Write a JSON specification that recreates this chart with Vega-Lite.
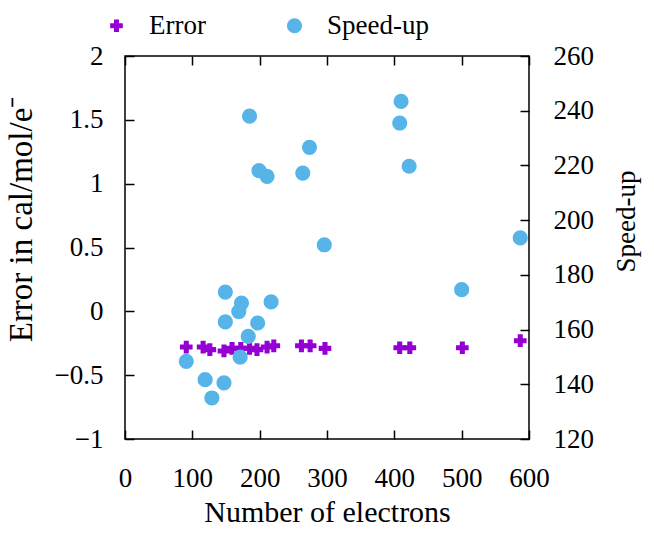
{
  "$schema": "https://vega.github.io/schema/vega-lite/v6.json",
  "width": 404,
  "height": 383,
  "padding": {"left": 5, "top": 12, "right": 10, "bottom": 4},
  "data": {
    "values": [
      {"electrons": 91, "series": "Error", "value": -0.28},
      {"electrons": 116, "series": "Error", "value": -0.28},
      {"electrons": 126, "series": "Error", "value": -0.30},
      {"electrons": 147, "series": "Error", "value": -0.31},
      {"electrons": 159, "series": "Error", "value": -0.29},
      {"electrons": 172, "series": "Error", "value": -0.29},
      {"electrons": 185, "series": "Error", "value": -0.29},
      {"electrons": 196, "series": "Error", "value": -0.30},
      {"electrons": 211, "series": "Error", "value": -0.28},
      {"electrons": 221, "series": "Error", "value": -0.27},
      {"electrons": 262, "series": "Error", "value": -0.27},
      {"electrons": 275, "series": "Error", "value": -0.27},
      {"electrons": 297, "series": "Error", "value": -0.29},
      {"electrons": 408, "series": "Error", "value": -0.285},
      {"electrons": 423, "series": "Error", "value": -0.285},
      {"electrons": 501, "series": "Error", "value": -0.285},
      {"electrons": 587, "series": "Error", "value": -0.23},
      {"electrons": 91, "series": "Speed-up", "value": 148.4},
      {"electrons": 119, "series": "Speed-up", "value": 141.7},
      {"electrons": 129, "series": "Speed-up", "value": 135.0},
      {"electrons": 147, "series": "Speed-up", "value": 140.5},
      {"electrons": 149, "series": "Speed-up", "value": 162.8},
      {"electrons": 149, "series": "Speed-up", "value": 173.7},
      {"electrons": 169, "series": "Speed-up", "value": 166.6},
      {"electrons": 173, "series": "Speed-up", "value": 169.7},
      {"electrons": 171, "series": "Speed-up", "value": 149.9},
      {"electrons": 183, "series": "Speed-up", "value": 157.5},
      {"electrons": 185, "series": "Speed-up", "value": 238.0},
      {"electrons": 197, "series": "Speed-up", "value": 162.4},
      {"electrons": 199, "series": "Speed-up", "value": 218.1},
      {"electrons": 211, "series": "Speed-up", "value": 216.0},
      {"electrons": 217, "series": "Speed-up", "value": 170.1},
      {"electrons": 264, "series": "Speed-up", "value": 217.2},
      {"electrons": 274, "series": "Speed-up", "value": 226.6},
      {"electrons": 296, "series": "Speed-up", "value": 191.0},
      {"electrons": 408, "series": "Speed-up", "value": 235.5},
      {"electrons": 410, "series": "Speed-up", "value": 243.4},
      {"electrons": 422, "series": "Speed-up", "value": 219.7},
      {"electrons": 500, "series": "Speed-up", "value": 174.6},
      {"electrons": 587, "series": "Speed-up", "value": 193.5}
    ]
  },
  "layer": [
    {
      "transform": [{"filter": "datum.series === 'Error'"}],
      "mark": {"type": "point", "filled": true, "opacity": 1, "strokeWidth": 0},
      "encoding": {
        "x": {
          "field": "electrons", "type": "quantitative",
          "scale": {"domain": [0, 600], "nice": false, "zero": false},
          "axis": {"tickCount": 6, "labelFlush": false, "title": "Number of electrons", "labelPadding": 35, "titleY": 73, "titleBaseline": "middle", "titlePadding": 0, "titleFontSize": 30,
            "ticks": true, "tickSize": -9, "tickColor": "black", "tickWidth": 1.5, "domain": false, "grid": false, "zindex": 1}
        },
        "y": {
          "field": "value", "type": "quantitative",
          "scale": {"domain": [-1, 2], "nice": false, "zero": false},
          "axis": {"tickCount": 7, "format": ".1~f", "title": "Error in cal/mol/e⁻", "labelPadding": 31, "titleX": -104, "titleY": 163, "titleAngle": -90, "titleAlign": "center", "titleBaseline": "middle", "titleFontSize": 33,
            "ticks": true, "tickSize": -9, "tickColor": "black", "tickWidth": 1.5, "domain": false, "grid": false, "zindex": 1}
        },
        "color": {"field": "series", "type": "nominal", "scale": {"domain": ["Error", "Speed-up"], "range": ["#9400d3", "#56b4e9"]},
          "legend": {"orient": "none", "legendX": -22, "legendY": -44, "direction": "horizontal", "title": null, "labelFontSize": 27, "labelFont": "Liberation Serif, serif", "labelColor": "black", "labelOffset": 19, "columnPadding": 75, "padding": 0, "symbolStrokeWidth": 0, "symbolOpacity": 1}},
        "shape": {"field": "series", "type": "nominal", "scale": {"domain": ["Error", "Speed-up"], "range": ["cross", "circle"]}},
        "size": {"field": "series", "type": "ordinal", "scale": {"domain": ["Error", "Speed-up"], "range": [160, 230]}}
      }
    },
    {
      "transform": [{"filter": "datum.series === 'Speed-up'"}],
      "mark": {"type": "point", "filled": true, "opacity": 1, "strokeWidth": 0},
      "encoding": {
        "x": {
          "field": "electrons", "type": "quantitative",
          "axis": {"orient": "top", "tickCount": 6, "labels": false, "title": null,
            "ticks": true, "tickSize": -9, "tickColor": "black", "tickWidth": 1.5, "domain": false, "grid": false, "zindex": 1}
        },
        "y": {
          "field": "value", "type": "quantitative",
          "scale": {"domain": [120, 260], "nice": false, "zero": false},
          "axis": {"orient": "right", "tickCount": 7, "title": "Speed-up", "labelPadding": 33, "titleX": 97, "titleY": 165, "titleAngle": -90, "titleAlign": "center", "titleBaseline": "middle",
            "ticks": true, "tickSize": -9, "tickColor": "black", "tickWidth": 1.5, "domain": false, "grid": false, "zindex": 1}
        },
        "color": {"field": "series", "type": "nominal"},
        "shape": {"field": "series", "type": "nominal"},
        "size": {"field": "series", "type": "ordinal"}
      }
    }
  ],
  "resolve": {"scale": {"y": "independent"}, "axis": {"x": "independent"}},
  "config": {
    "view": {"stroke": "black", "strokeWidth": 1.5},
    "axis": {
      "labelFont": "Liberation Serif, serif",
      "labelFontSize": 27,
      "labelColor": "black",
      "titleFont": "Liberation Serif, serif",
      "titleFontSize": 27,
      "titleFontWeight": "normal",
      "titleColor": "black"
    }
  }
}
